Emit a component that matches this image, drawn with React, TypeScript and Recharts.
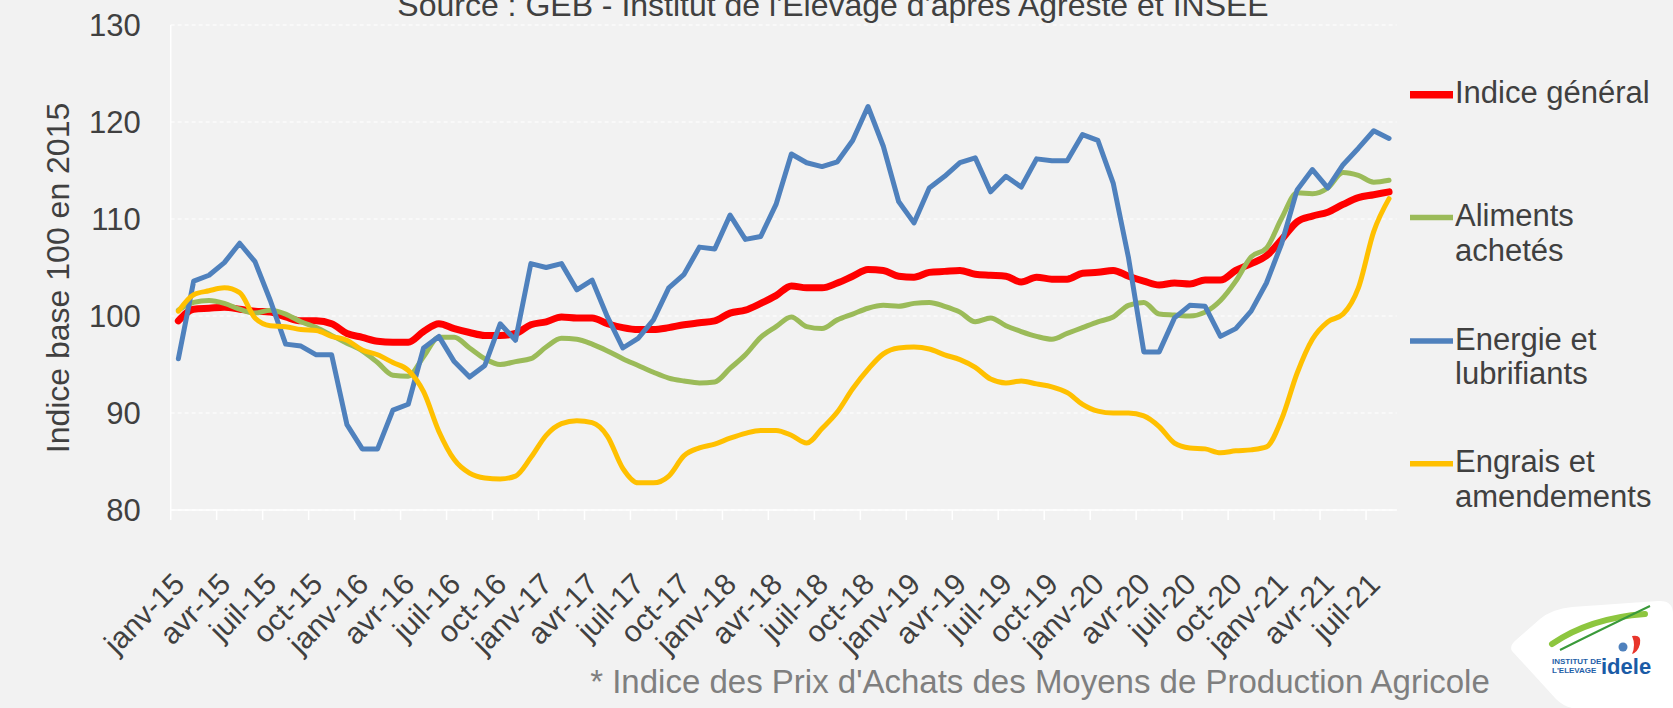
import React from 'react';
import { ComposedChart, Line, XAxis, YAxis, CartesianGrid } from 'recharts';

const MONTHS = ['janv', 'févr', 'mars', 'avr', 'mai', 'juin', 'juil', 'août', 'sept', 'oct', 'nov', 'déc'];
const YEARS = ['15', '16', '17', '18', '19', '20', '21'];
const CATEGORIES: string[] = YEARS.flatMap((y) => MONTHS.map((m) => `${m}-${y}`)).slice(0, 80);

const INDICE = [
  99.5, 100.7, 100.8, 100.9, 100.7, 100.5, 100.4, 99.9, 99.5, 99.5, 99.2, 98.2,
  97.8, 97.4, 97.3, 97.3, 98.4, 99.2, 98.7, 98.3, 98.0, 98.0, 98.2, 99.1,
  99.4, 99.9, 99.8, 99.8, 99.2, 98.8, 98.6, 98.6, 98.8, 99.1, 99.3, 99.5,
  100.3, 100.6, 101.3, 102.1, 103.1, 102.9, 102.9, 103.4, 104.1, 104.8, 104.7, 104.1,
  104.0, 104.5, 104.6, 104.7, 104.3, 104.2, 104.1, 103.5, 104.0, 103.8, 103.8, 104.4,
  104.5, 104.7, 104.1, 103.6, 103.2, 103.4, 103.3, 103.7, 103.7, 104.7, 105.4, 106.2,
  107.9, 109.7, 110.3, 110.7, 111.5, 112.2, 112.5, 112.8,
];

const ALIMENTS = [
  100.6, 101.4, 101.6, 101.3, 100.7, 100.3, 100.6, 100.2, 99.4, 98.8, 98.0, 97.2,
  96.4, 95.2, 93.9, 93.8, 95.8, 97.8, 97.8, 96.7, 95.6, 95.0, 95.3, 95.6,
  96.8, 97.7, 97.6, 97.1, 96.4, 95.6, 94.9, 94.2, 93.6, 93.3, 93.1, 93.2,
  94.6, 96.0, 97.8, 98.9, 99.9, 98.9, 98.7, 99.6, 100.2, 100.8, 101.1, 101.0,
  101.3, 101.4, 101.0, 100.4, 99.4, 99.8, 99.0, 98.4, 97.9, 97.6, 98.2, 98.8,
  99.4, 99.9, 101.1, 101.4, 100.2, 100.1, 100.0, 100.4, 101.6, 103.6, 106.1, 107.0,
  110.1, 112.7, 112.6, 113.2, 114.8, 114.5, 113.8, 114.0,
];

const ENERGIE = [
  95.6, 103.6, 104.2, 105.5, 107.5, 105.6, 101.6, 97.1, 96.9, 96.0, 96.0, 88.8,
  86.3, 86.3, 90.3, 90.9, 96.7, 97.9, 95.3, 93.7, 94.9, 99.2, 97.5, 105.4,
  105.0, 105.4, 102.7, 103.7, 99.9, 96.7, 97.7, 99.6, 102.9, 104.3, 107.1, 106.9,
  110.4, 107.9, 108.2, 111.5, 116.7, 115.8, 115.4, 115.9, 118.1, 121.6, 117.5, 111.8,
  109.6, 113.2, 114.4, 115.8, 116.3, 112.8, 114.4, 113.3, 116.2, 116.0, 116.0, 118.7,
  118.1, 113.7, 106.0, 96.3, 96.3, 99.8, 101.1, 101.0, 97.9, 98.7, 100.5, 103.4,
  107.5, 113.0, 115.1, 113.2, 115.6, 117.3, 119.1, 118.3,
];

const ENGRAIS = [
  100.5, 102.2, 102.6, 102.9, 102.4, 99.8, 99.0, 98.9, 98.6, 98.5, 97.9, 97.5,
  96.5, 96.0, 95.2, 94.4, 92.2, 88.1, 85.2, 83.8, 83.3, 83.2, 83.5, 85.4,
  87.7, 88.9, 89.2, 89.0, 87.6, 84.3, 82.8, 82.8, 83.5, 85.6, 86.4, 86.8,
  87.4, 87.9, 88.2, 88.2, 87.7, 86.9, 88.4, 90.1, 92.5, 94.5, 96.1, 96.7,
  96.8, 96.6, 96.0, 95.5, 94.7, 93.5, 93.1, 93.3, 93.0, 92.7, 92.1, 90.9,
  90.2, 90.0, 90.0, 89.7, 88.6, 86.9, 86.4, 86.3, 85.9, 86.1, 86.2, 86.5,
  89.4, 94.1, 97.6, 99.4, 100.2, 102.9, 108.7, 112.1,
];

const SERIES_NAMES = ['Indice général', 'Aliments achetés', 'Energie et lubrifiants', 'Engrais et amendements'];
const LEGEND_LINES = [['Indice général'], ['Aliments', 'achetés'], ['Energie et', 'lubrifiants'], ['Engrais et', 'amendements']];
const Y_TICKS = [80, 90, 100, 110, 120, 130];
const X_TICKS = CATEGORIES.map((_, i) => i).filter((i) => i % 3 === 0);

const TITLE = "Source : GEB - Institut de l'Elevage d'après Agreste et INSEE";
const FOOTNOTE = "* Indice des Prix d'Achats des Moyens de Production Agricole";
const Y_TITLE = 'Indice base 100 en 2015';

const COLORS = ['#ff0000', '#9bbb59', '#4f81bd', '#ffc000'];
const WIDTHS = [7, 5, 5, 5];
const KEYS = ['indice', 'aliments', 'energie', 'engrais'];

const W = 1673;
const H = 708;
const PLOT_LEFT = 170.7;
const PLOT_RIGHT = 1396.7;
const PLOT_TOP = 25;
const PLOT_BOTTOM = 510;
const BAND = (PLOT_RIGHT - PLOT_LEFT) / CATEGORIES.length;
const FONT = '"Liberation Sans", Arial, sans-serif';
const TEXT = '#404040';

const data = CATEGORIES.map((label, i) => ({
  pos: i + 0.5,
  label,
  indice: INDICE[i],
  aliments: ALIMENTS[i],
  energie: ENERGIE[i],
  engrais: ENGRAIS[i],
}));

const XTick = (props: any) => {
  const { x, payload } = props;
  const idx = payload.value as number;
  const cx = x + BAND / 2 + 8;
  const cy = PLOT_BOTTOM + 76;
  return (
    <text
      x={cx}
      y={cy}
      transform={`rotate(-45 ${cx} ${cy})`}
      textAnchor="end"
      fill={TEXT}
      fontSize={30}
      fontFamily={FONT}
    >
      {CATEGORIES[idx]}
    </text>
  );
};

const LEGEND_Y = [94.8, 217.6, 340.9, 463.7];

export default function App() {
  return (
    <div style={{ position: 'absolute', left: 0, top: 0, width: W, height: H, background: '#f2f2f2', overflow: 'hidden' }}>
      <ComposedChart
        width={W}
        height={H}
        data={data}
        margin={{ top: PLOT_TOP, right: W - PLOT_RIGHT, bottom: 0, left: 0 }}
      >
        <CartesianGrid vertical={false} stroke="#ffffff" strokeDasharray="4 3" strokeWidth={1.2} />
        <XAxis
          dataKey="pos"
          type="number"
          domain={[0, CATEGORIES.length]}
          ticks={X_TICKS}
          interval={0}
          height={H - PLOT_BOTTOM}
          axisLine={{ stroke: '#ffffff', strokeWidth: 1.5 }}
          tickLine={{ stroke: '#ffffff', strokeWidth: 1.5 }}
          tickSize={10}
          tick={<XTick />}
        />
        <YAxis
          type="number"
          domain={[80, 130]}
          ticks={Y_TICKS}
          width={PLOT_LEFT}
          axisLine={{ stroke: '#ffffff', strokeWidth: 1.5 }}
          tickLine={false}
          tickSize={0}
          tickMargin={30}
          tick={{ fill: TEXT, fontSize: 31, fontFamily: FONT }}
        />
        {KEYS.map((k, i) => (
          <Line
            key={k}
            dataKey={k}
            name={SERIES_NAMES[i]}
            type={i === 2 ? 'linear' : 'monotone'}
            stroke={COLORS[i]}
            strokeWidth={WIDTHS[i]}
            strokeLinejoin="round"
            strokeLinecap="round"
            dot={false}
            activeDot={false}
            isAnimationActive={false}
          />
        ))}
      </ComposedChart>
      <svg width={W} height={H} style={{ position: 'absolute', left: 0, top: 0, pointerEvents: 'none' }}>
        <text x={833} y={16} textAnchor="middle" fill={TEXT} fontSize={32} fontFamily={FONT}>{TITLE}</text>
        <text x={69} y={278} transform="rotate(-90 69 278)" textAnchor="middle" fill={TEXT} fontSize={32} fontFamily={FONT}>{Y_TITLE}</text>
        <text x={1040} y={693} textAnchor="middle" fill="#7f7f7f" fontSize={33} fontFamily={FONT}>{FOOTNOTE}</text>
        {LEGEND_LINES.map((lines, i) => (
          <g key={i}>
            <line x1={1410} x2={1453} y1={LEGEND_Y[i]} y2={LEGEND_Y[i]} stroke={COLORS[i]} strokeWidth={i === 0 ? 7.5 : 5.5} />
            {lines.map((t, j) => (
              <text key={j} x={1455} y={LEGEND_Y[i] + 8.6 + j * 34.8} fill={TEXT} fontSize={31} fontFamily={FONT}>{t}</text>
            ))}
          </g>
        ))}
        <g>
          <path d="M1512,651 Q1509,646 1516,640 L1540,619 Q1552,609 1572,607 L1658,601 Q1673,600 1673,614 L1673,708 L1572,708 Q1563,706 1556,699 Z" fill="#ffffff" />
          <path d="M1552,644 Q1590,618 1645,614" stroke="#8dc63f" strokeWidth={6} fill="none" strokeLinecap="round" />
          <path d="M1560,650 Q1600,630 1650,606" stroke="#3a9a3a" strokeWidth={2} fill="none" />
          <circle cx={1623} cy={647} r={4.5} fill="#4f81bd" />
          <path d="M1632,636 Q1642,634 1640,644 Q1638,652 1632,654 Q1636,645 1632,636 Z" fill="#e8352b" />
          <text x={1552} y={664} fill="#1f5fa8" fontSize={8} fontWeight="bold" fontFamily={FONT}>INSTITUT DE</text>
          <text x={1552} y={673} fill="#1f5fa8" fontSize={8} fontWeight="bold" fontFamily={FONT}>L'ELEVAGE</text>
          <text x={1601} y={674} fill="#1a5ba6" fontSize={22} fontWeight="bold" fontFamily={FONT}>idele</text>
        </g>
      </svg>
    </div>
  );
}
